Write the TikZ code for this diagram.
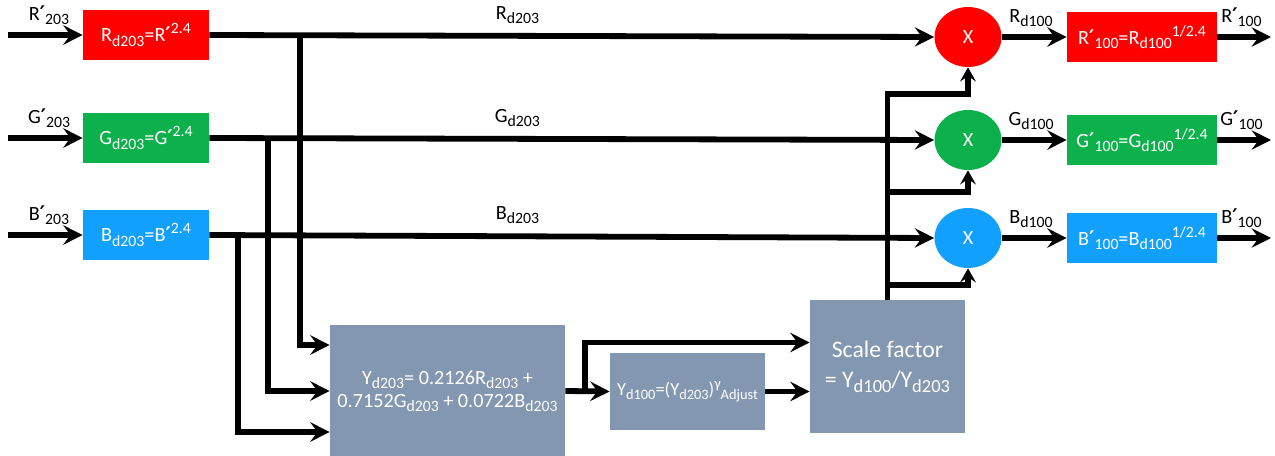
\documentclass[tikz,border=0pt]{standalone}
\usepackage{fontspec}
\setmainfont{Carlito}
\newfontfamily\primefont{DejaVu Sans}
\usetikzlibrary{arrows.meta,positioning,calc,shapes.geometric}
\definecolor{boxred}{HTML}{FF0000}
\definecolor{boxgreen}{HTML}{0DB14B}
\definecolor{boxblue}{HTML}{12A0FF}
\definecolor{boxgray}{HTML}{8497B0}
\newcommand{\sbs}[1]{\raisebox{-0.45ex}{\scalebox{0.78}{#1}}}
\newcommand{\sps}[1]{\raisebox{0.85ex}{\scalebox{0.78}{#1}}}
\newcommand{\pr}{{\primefont\bfseries ′}}
\begin{document}
\begin{tikzpicture}[x=0.02cm, y=-0.02cm, font=\fontsize{11.5}{13}\selectfont,
    conv/.style={rectangle, text=white, minimum width=2.52cm, minimum height=1cm, inner sep=1pt},
    outbox/.style={conv, minimum width=3cm, minimum height=1.02cm},
    mult/.style={ellipse, text=white, minimum width=1.34cm, minimum height=1.2cm, inner sep=0pt},
    calcbox/.style={rectangle, fill=boxgray, text=white, align=center, inner sep=1pt},
    wire/.style={line width=3.3pt},
    flow/.style={wire, -{Stealth[length=11pt, width=11pt, inset=4pt]}},
    feed/.style={wire, -{Stealth[length=8pt, width=9pt, inset=3pt]}}]
    \useasboundingbox (0,0) rectangle (1275,456);
    % gamma expansion
    \node[conv, fill=boxred] (rin) at (146,35) {R\sbs{d203}=R\pr\sps{2.4}};
    \node[conv, fill=boxgreen] (gin) at (146,138) {G\sbs{d203}=G\pr\sps{2.4}};
    \node[conv, fill=boxblue] (bin) at (146,235) {B\sbs{d203}=B\pr\sps{2.4}};
    \coordinate (rsrc) at (8,35);
    \coordinate (gsrc) at (8,138);
    \coordinate (bsrc) at (8,235);
    \draw[flow] (rsrc) -- (rin.west) node[pos=0.55, above=1pt] {R\pr\sbs{203}};
    \draw[flow] (gsrc) -- (gin.west) node[pos=0.55, above=1pt] {G\pr\sbs{203}};
    \draw[flow] (bsrc) -- (bin.west) node[pos=0.55, above=1pt] {B\pr\sbs{203}};
    % multipliers
    \node[mult, fill=boxred] (rx) at (968,37) {X};
    \node[mult, fill=boxgreen] (gx) at (968,140) {X};
    \node[mult, fill=boxblue] (bx) at (968,238) {X};
    \draw[flow] (rin.east) -- (rx.west) node[pos=0.425, above=2pt] {R\sbs{d203}};
    \draw[flow] (gin.east) -- (gx.west) node[pos=0.425, above=2pt] {G\sbs{d203}};
    \draw[flow] (bin.east) -- (bx.west) node[pos=0.425, above=2pt] {B\sbs{d203}};
    % luminance
    \node[calcbox, minimum width=4.7cm, minimum height=2.66cm] (ylum) at (447.5,391)
        {Y\sbs{d203}= 0.2126R\sbs{d203} +\\0.7152G\sbs{d203} + 0.0722B\sbs{d203}};
    \node[calcbox, minimum width=3.1cm, minimum height=1.54cm, font=\fontsize{10.5}{12}\selectfont] (ygam) at (687.5,391.5)
        {Y\sbs{d100}=(Y\sbs{d203})\sps{γ}\sbs{Adjust}};
    \node[calcbox, minimum width=3.1cm, minimum height=2.66cm, font=\fontsize{13.5}{17}\selectfont] (scale) at (887.5,366.5)
        {Scale factor\\= Y\sbs{d100}/Y\sbs{d203}};
    \coordinate (rtap) at (300,35);
    \coordinate (gtap) at (268,138);
    \coordinate (btap) at (238,235);
    \draw[flow] (rtap) |- ($(ylum.west)+(0,-46)$);
    \draw[flow] (gtap) |- (ylum.west);
    \draw[flow] (btap) |- ($(ylum.west)+(0,41)$);
    \coordinate (split) at (585,391);
    \draw[flow] (ylum.east) -- (ygam.west);
    \draw[flow] (split) |- ($(scale.west)+(0,-24)$);
    \draw[flow] (ygam.east) -- (ygam.east -| scale.west);
    % scale factor to multipliers
    \coordinate (rfork) at (887.5,94);
    \coordinate (gfork) at (887.5,192);
    \coordinate (bfork) at (887.5,285);
    \draw[feed] (scale.north) -- (rfork) -| (rx.south);
    \draw[feed] (gfork) -| (gx.south);
    \draw[feed] (bfork) -| (bx.south);
    % gamma compression
    \node[outbox, fill=boxred] (rout) at (1142,37) {R\pr\sbs{100}=R\sbs{d100}\sps{1/2.4}};
    \node[outbox, fill=boxgreen] (gout) at (1142,140) {G\pr\sbs{100}=G\sbs{d100}\sps{1/2.4}};
    \node[outbox, fill=boxblue] (bout) at (1142,238) {B\pr\sbs{100}=B\sbs{d100}\sps{1/2.4}};
    \draw[flow] (rx.east) -- (rout.west) node[pos=0.45, above=1pt] {R\sbs{d100}};
    \draw[flow] (gx.east) -- (gout.west) node[pos=0.45, above=1pt] {G\sbs{d100}};
    \draw[flow] (bx.east) -- (bout.west) node[pos=0.45, above=1pt] {B\sbs{d100}};
    \coordinate (rdst) at (1271,37);
    \coordinate (gdst) at (1271,140);
    \coordinate (bdst) at (1271,238);
    \draw[flow] (rout.east) -- (rdst) node[pos=0.45, above=1pt] {R\pr\sbs{100}};
    \draw[flow] (gout.east) -- (gdst) node[pos=0.45, above=1pt] {G\pr\sbs{100}};
    \draw[flow] (bout.east) -- (bdst) node[pos=0.45, above=1pt] {B\pr\sbs{100}};
\end{tikzpicture}
\end{document}
